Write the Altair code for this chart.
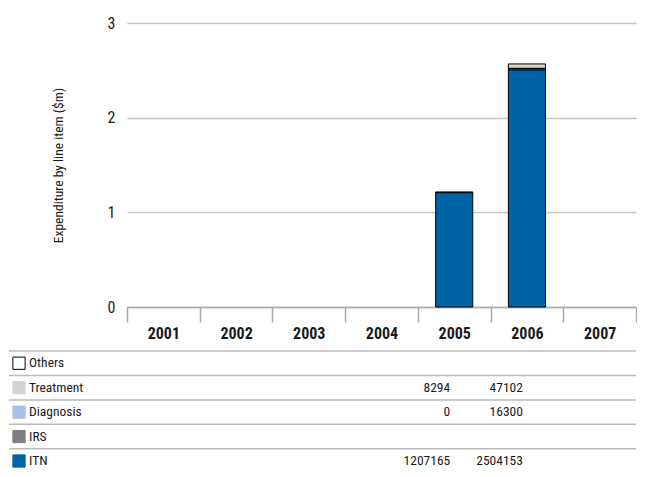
import altair as alt
import pandas as pd

FONT = "Roboto Condensed, Liberation Sans Narrow, Arial Narrow, Roboto, sans-serif"

years = ["2001", "2002", "2003", "2004", "2005", "2006", "2007"]
items = ["Others", "Treatment", "Diagnosis", "IRS", "ITN"]
item_colors = ["#FFFFFF", "#D4D4D4", "#A9C1E6", "#7F7F7F", "#0063A6"]
swatch_strokes = ["#000000", "#D4D4D4", "#A9C1E6", "#7F7F7F", "#0063A6"]

others = [None, None, None, None, None, None, None]
treatment = [None, None, None, None, 8294, 47102, None]
diagnosis = [None, None, None, None, 0, 16300, None]
irs = [None, None, None, None, None, None, None]
itn = [None, None, None, None, 1207165, 2504153, None]

series = {"Others": others, "Treatment": treatment, "Diagnosis": diagnosis,
          "IRS": irs, "ITN": itn}

records = []
for item, vals in series.items():
    for yr, v in zip(years, vals):
        if v is not None:
            idx = items.index(item)
            records.append({"year": yr, "item": item, "value": v,
                            "m": v / 1e6, "label": str(v),
                            "stack": len(items) - 1 - idx, "mid": idx + 0.5})
df = pd.DataFrame(records)

rows_df = pd.DataFrame({"item": items, "color": item_colors, "stroke": swatch_strokes,
                        "top": list(range(len(items))),
                        "mid": [i + 0.5 for i in range(len(items))]})

W = 509
xscale = alt.Scale(domain=years, paddingInner=0, paddingOuter=0)
ty = alt.Scale(domain=[0, 4.5], reverse=True, nice=False, zero=False)

bars = alt.Chart(df).mark_bar(
    width=alt.RelativeBandSize(0.51), stroke="black", strokeWidth=1
).encode(
    x=alt.X("year:O", scale=xscale, axis=alt.Axis(
        title=None, labelAngle=0, labelFontWeight="bold", labelFontSize=16,
        labelColor="#1a1a1a", labelPadding=3, tickBand="extent", tickSize=15,
        tickColor="#aaaaaa", tickWidth=1.5, domainColor="#aaaaaa", domainWidth=1.5,
        labelFont=FONT)),
    y=alt.Y("m:Q", stack="zero", scale=alt.Scale(domain=[0, 3], nice=False),
            axis=alt.Axis(title="Expenditure by line item ($m)", values=[0, 1, 2, 3],
                          format="d", grid=True, gridColor="#c4c4c4", gridWidth=1.5,
                          domain=False, ticks=False, labelPadding=12, labelFontSize=16,
                          labelColor="#1a1a1a", labelFont=FONT, titleFont=FONT,
                          titleFontSize=13.5, titleFontWeight="normal",
                          titleColor="#1a1a1a", titlePadding=42)),
    color=alt.Color("item:N", scale=alt.Scale(domain=items, range=item_colors), legend=None),
    order=alt.Order("stack:Q", sort="ascending"),
).properties(width=W, height=284)

rules = alt.Chart(rows_df).mark_rule(color="#bbbbbb", strokeWidth=1.5).encode(
    y=alt.Y("top:Q", scale=ty, axis=None),
    x=alt.value(-118), x2=alt.value(W),
)
swatches = alt.Chart(rows_df).mark_square(size=150, opacity=1, filled=True,
                                          strokeWidth=1).encode(
    y=alt.Y("mid:Q", scale=ty, axis=None),
    x=alt.value(-108),
    fill=alt.Fill("color:N", scale=None),
    stroke=alt.Stroke("stroke:N", scale=None),
)
row_labels = alt.Chart(rows_df).mark_text(
    align="left", baseline="middle", font=FONT, fontSize=13.5, color="#1a1a1a"
).encode(
    y=alt.Y("mid:Q", scale=ty, axis=None),
    x=alt.value(-98),
    text="item:N",
)
values = alt.Chart(df).mark_text(
    align="right", baseline="middle", dx=-4, font=FONT, fontSize=13.5, color="#1a1a1a"
).encode(
    x=alt.X("year:O", bandPosition=1, scale=xscale, axis=None),
    y=alt.Y("mid:Q", scale=ty, axis=None),
    text="label:N",
)
table = alt.layer(rules, swatches, row_labels, values).properties(width=W, height=110)

chart = alt.vconcat(bars, table, spacing=9).properties(
    padding={"left": 0, "top": 7, "right": 0, "bottom": 0}
).configure(font=FONT).configure_view(stroke=None)

chart.save("out.html", embed_options={"renderer": "svg", "actions": False})
